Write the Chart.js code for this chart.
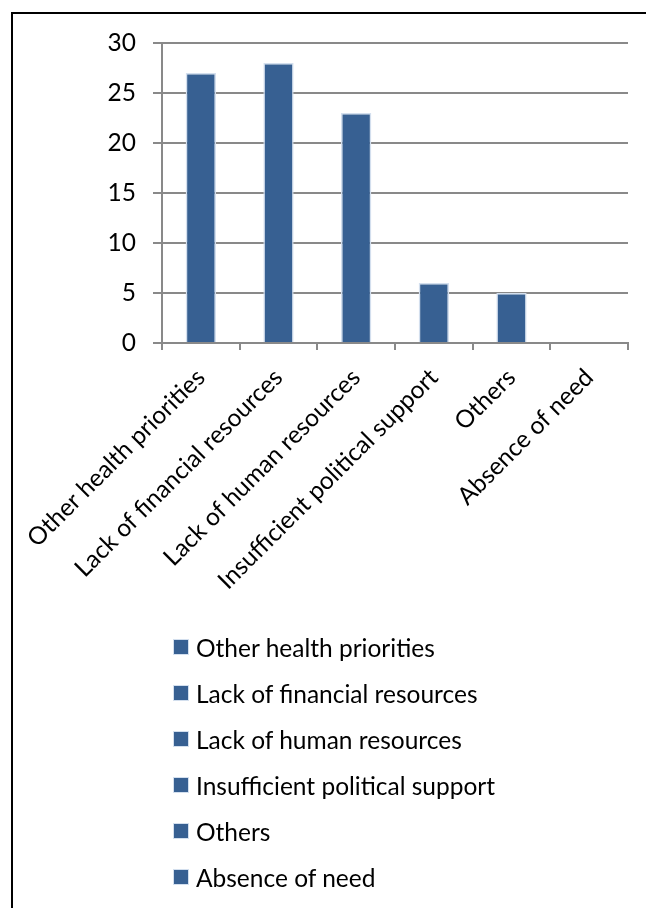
<!DOCTYPE html>
<html>
<head>
<meta charset="utf-8">
<script src="https://cdn.jsdelivr.net/npm/chart.js@4/dist/chart.umd.min.js"></script>
<style>
  html, body { margin: 0; padding: 0; background: #fff; }
  body { width: 646px; height: 908px; position: relative; overflow: hidden; }
  #frame { position: absolute; left: 11px; top: 12px; width: 700px; height: 1000px; border: 2px solid #000; box-sizing: border-box; }
  #c { position: absolute; left: 0; top: 0; }
  #legend { position: absolute; left: 173px; top: 624px; font-family: Lato, sans-serif; font-size: 24.5px; color: #000; }
  .item { height: 46px; display: flex; align-items: center; }
  .box { width: 14px; height: 14px; background: #376092; border: 1px solid #D3DFEE; margin-right: 7px; flex: none; }
</style>
</head>
<body>
<div id="frame"></div>
<canvas id="c" width="646" height="908"></canvas>
<div id="legend"></div>
<script>
const categories = [
  "Other health priorities",
  "Lack of financial resources",
  "Lack of human resources",
  "Insufficient political support",
  "Others",
  "Absence of need"
];
const values = [27, 28, 23, 6, 5, 0];
const yTicks = [0, 5, 10, 15, 20, 25, 30];

const BAR = '#376092';
const GRID = '#898989';
const FONT = 'Lato, sans-serif';
const FSIZE = 24.5;

const legendEl = document.getElementById('legend');
categories.forEach(name => {
  const row = document.createElement('div');
  row.className = 'item';
  const b = document.createElement('span');
  b.className = 'box';
  const t = document.createElement('span');
  t.textContent = name;
  row.appendChild(b); row.appendChild(t);
  legendEl.appendChild(row);
});

new Chart(document.getElementById('c'), {
  type: 'bar',
  data: {
    labels: categories,
    datasets: [{
      data: values,
      backgroundColor: BAR,
      borderColor: '#D3DFEE',
      borderWidth: 1.5,
      barPercentage: 0.39,
      categoryPercentage: 1
    }]
  },
  options: {
    responsive: false,
    animation: false,
    devicePixelRatio: 1,
    layout: { padding: { top: 43, right: 18, left: 0, bottom: 0 } },
    plugins: { legend: { display: false }, tooltip: { enabled: false } },
    scales: {
      x: {
        offset: true,
        grid: { display: true, drawOnChartArea: false, drawTicks: true, tickLength: 7, offset: true, color: GRID, lineWidth: 2 },
        border: { display: true, color: GRID, width: 2 },
        ticks: { color: '#000', font: { family: FONT, size: FSIZE }, minRotation: 45, maxRotation: 45, autoSkip: false, padding: 13 },
        afterFit: s => { s.height = 908 - 343; }
      },
      y: {
        min: 0, max: 30,
        afterBuildTicks: s => { s.ticks = yTicks.map(v => ({ value: v })); },
        grid: { color: GRID, lineWidth: 2, tickLength: 9, drawTicks: true },
        border: { display: true, color: GRID, width: 2 },
        ticks: { color: '#000', font: { family: FONT, size: FSIZE }, padding: 17 },
        afterFit: s => { s.width = 162; }
      }
    }
  }
});
</script>
</body>
</html>
